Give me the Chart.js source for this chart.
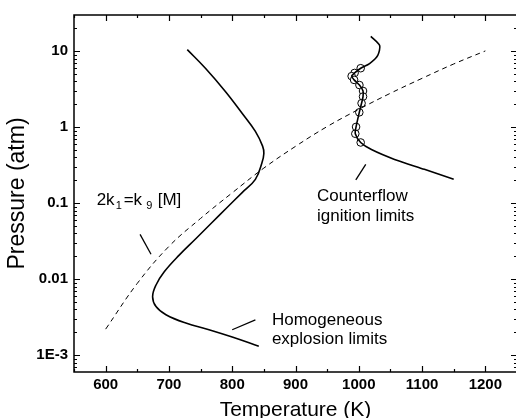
<!DOCTYPE html>
<html><head><meta charset="utf-8">
<script src="https://cdn.jsdelivr.net/npm/chart.js@4"></script>
<style>
html,body{margin:0;padding:0;background:#fff;overflow:hidden;width:516px;height:418px;}
#wrap{position:absolute;left:0;top:0;width:522px;height:418px;}
</style></head><body>
<div id="wrap"><canvas id="c" width="522" height="418"></canvas></div>
<script>
// ---- data ----
const homogeneousT = [729, 758, 789.5, 815.6, 836.6, 848, 850, 847, 836.6, 815.7, 789.5, 768.5, 742.4, 716.2, 692.6, 679.6, 674.2, 679.6, 695.3, 726.7, 763.3, 800, 842];
const homogeneousP = [10.5, 5.93, 2.94, 1.53, 0.883, 0.564, 0.451, 0.341, 0.206, 0.138, 0.0838, 0.0561, 0.034, 0.0207, 0.0125, 0.00838, 0.00589, 0.00436, 0.0034, 0.00264, 0.00216, 0.00173, 0.00131];

const crossoverT = [600, 650, 700, 750, 800, 850, 900, 950, 1000, 1050, 1100, 1150, 1200];
const crossoverP = [0.0022, 0.0088, 0.027, 0.063, 0.137, 0.29, 0.56, 1.02, 1.72, 2.8, 4.4, 6.8, 10.1];

const counterflowT = [1019, 1033, 1030, 1017, 1003, 993.4, 988.7, 992.6, 1001, 1006.7, 1006.7, 1004.4, 1000.8, 995.7, 994.5, 1003, 1020, 1056.5, 1103.6, 1150];
const counterflowP = [15.7, 11.9, 8.83, 6.89, 5.98, 5.18, 4.70, 4.20, 3.59, 3.0, 2.53, 2.07, 1.57, 1.01, 0.82, 0.63, 0.508, 0.377, 0.279, 0.206];

const experimentT = [1003, 993.4, 988.7, 992.6, 1001, 1006.7, 1006.7, 1004.4, 1000.8, 995.7, 994.5, 1003];
const experimentP = [5.98, 5.18, 4.70, 4.20, 3.59, 3.0, 2.53, 2.07, 1.57, 1.01, 0.82, 0.63];

// annotation leader lines (data units)
const leaderCrossoverT = [654.4, 671.7];
const leaderCrossoverP = [0.0388, 0.0213];
const leaderCounterT = [1011, 995.3];
const leaderCounterP = [0.324, 0.203];
const leaderHomT = [836.6, 800];
const leaderHomP = [0.00292, 0.00216];

// annotation texts and anchors (data units, left/baseline)
const noteTexts = ['Counterflow', 'ignition limits', 'Homogeneous', 'explosion limits'];
const noteT = [934, 934, 862.7, 862.7];
const noteP = [0.1055, 0.0578, 0.00247, 0.00139];
const formulaT = 585.8;
const formulaP = 0.0936;

// axes
const xTickValues = [600, 700, 800, 900, 1000, 1100, 1200];
const xMinorValues = [550, 650, 750, 850, 950, 1050, 1150, 1250];
const yTickValues = [0.001, 0.01, 0.1, 1, 10];
const yTickLabels = ['1E-3', '0.01', '0.1', '1', '10'];
const yMinorValues = [0.0007, 0.0008, 0.0009, 0.002, 0.003, 0.004, 0.005, 0.006, 0.007, 0.008, 0.009,
  0.02, 0.03, 0.04, 0.05, 0.06, 0.07, 0.08, 0.09, 0.2, 0.3, 0.4, 0.5, 0.6, 0.7, 0.8, 0.9,
  2, 3, 4, 5, 6, 7, 8, 9, 20];

const zip = (a, b) => a.map((v, i) => ({x: v, y: b[i]}));
const FONT = "'Liberation Sans', Arial, sans-serif";

const framePlugin = {
  id: 'frame',
  afterDatasetsDraw(chart) {
    const {ctx, chartArea: a, scales: {x, y}} = chart;
    ctx.save();
    ctx.strokeStyle = '#000';
    ctx.lineWidth = 1.5;
    ctx.strokeRect(a.left, a.top, a.right - a.left, a.bottom - a.top);
    ctx.lineWidth = 1.2;
    ctx.beginPath();
    const seg = (x1, y1, x2, y2) => { ctx.moveTo(x1, y1); ctx.lineTo(x2, y2); };
    xTickValues.forEach(v => { const p = Math.round(x.getPixelForValue(v)) + 0.5; seg(p, a.bottom, p, a.bottom - 6); seg(p, a.top, p, a.top + 6); });
    xMinorValues.forEach(v => { const p = Math.round(x.getPixelForValue(v)) + 0.5; seg(p, a.bottom, p, a.bottom - 3); seg(p, a.top, p, a.top + 3); });
    yTickValues.forEach(v => { const p = Math.round(y.getPixelForValue(v)) + 0.5; seg(a.left, p, a.left + 6, p); seg(a.right, p, a.right - 6, p); });
    yMinorValues.forEach(v => { const p = Math.round(y.getPixelForValue(v)) + 0.5; seg(a.left, p, a.left + 3, p); seg(a.right, p, a.right - 3, p); });
    ctx.stroke();

    ctx.fillStyle = '#000';
    ctx.textBaseline = 'alphabetic';
    ctx.textAlign = 'left';
    ctx.font = '17px ' + FONT;
    noteTexts.forEach((t, i) => ctx.fillText(t, x.getPixelForValue(noteT[i]), y.getPixelForValue(noteP[i])));

    // 2k1=k9[M] with subscripts
    const fx = x.getPixelForValue(formulaT), fy = y.getPixelForValue(formulaP);
    const parts = [['2k', 0, 0, 17], ['1', 19, 4, 11], ['=k', 27, 0, 17], ['9', 49.5, 4, 11], ['[M]', 61, 0, 17]];
    parts.forEach(([t, dx, dy, s]) => { ctx.font = s + 'px ' + FONT; ctx.fillText(t, fx + dx, fy + dy); });
    ctx.restore();
  }
};

const lineStyle = {showLine: true, pointRadius: 0, borderColor: '#000', backgroundColor: '#000', fill: false};

new Chart(document.getElementById('c'), {
  type: 'scatter',
  data: {
    datasets: [
      {...lineStyle, label: 'Homogeneous explosion limits', data: zip(homogeneousT, homogeneousP), borderWidth: 1.6, tension: 0.4},
      {...lineStyle, label: '2k1=k9[M]', data: zip(crossoverT, crossoverP), borderWidth: 1, borderDash: [5, 4], tension: 0.4},
      {...lineStyle, label: 'Counterflow ignition limits', data: zip(counterflowT, counterflowP), borderWidth: 1.6, tension: 0.25},
      {label: 'Experiment', data: zip(experimentT, experimentP), showLine: false, pointRadius: 3.8, pointBorderWidth: 1, pointBorderColor: '#000', pointBackgroundColor: '#fff'},
      {...lineStyle, label: 'leader1', data: zip(leaderCrossoverT, leaderCrossoverP), borderWidth: 1.3},
      {...lineStyle, label: 'leader2', data: zip(leaderCounterT, leaderCounterP), borderWidth: 1.3},
      {...lineStyle, label: 'leader3', data: zip(leaderHomT, leaderHomP), borderWidth: 1.3}
    ]
  },
  options: {
    responsive: false,
    animation: false,
    devicePixelRatio: 1,
    layout: {padding: {top: 11, right: 2, left: 0, bottom: 0}},
    plugins: {legend: {display: false}, tooltip: {enabled: false}},
    scales: {
      x: {
        type: 'linear', min: 550, max: 1250,
        grid: {display: false, drawTicks: false}, border: {display: false},
        afterBuildTicks: s => { s.ticks = xTickValues.map(v => ({value: v})); },
        afterFit: s => { s.height = 46; },
        ticks: {autoSkip: false, maxRotation: 0, padding: 4, color: '#000', font: {family: FONT, size: 15, weight: 'bold'}, callback: v => String(v)},
        title: {display: true, text: 'Temperature (K)', color: '#000', padding: 0, font: {family: FONT, size: 21, lineHeight: 0.7}}
      },
      y: {
        type: 'logarithmic', min: 0.0006, max: 30,
        grid: {display: false, drawTicks: false}, border: {display: false},
        afterBuildTicks: s => { s.ticks = yTickValues.map(v => ({value: v})); },
        afterFit: s => { s.width = 74; },
        ticks: {autoSkip: false, padding: 6, color: '#000', font: {family: FONT, size: 15, weight: 'bold'}, callback: (v, i) => yTickLabels[i]},
        title: {display: true, text: 'Pressure (atm)', color: '#000', padding: {top: 4, bottom: 0}, font: {family: FONT, size: 23}}
      }
    }
  },
  plugins: [framePlugin]
});
</script>
</body></html>
